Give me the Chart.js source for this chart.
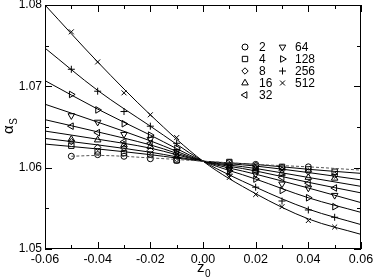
<!DOCTYPE html>
<html><head><meta charset="utf-8">
<script src="https://cdn.jsdelivr.net/npm/chart.js@4.4.0/dist/chart.umd.min.js"></script>
<style>html,body{margin:0;padding:0;background:#fff}#wrap{width:374px;height:280px}</style>
</head><body><div id="wrap"><canvas id="c" width="374" height="280"></canvas></div>
<script>
// ---- data ----
const zValues = [-0.05, -0.04, -0.03, -0.02, -0.01, 0.01, 0.02, 0.03, 0.04, 0.05];
const seriesNames = ['2', '4', '8', '16', '32', '64', '128', '256', '512'];
const alpha2   = [1.0614, 1.0616, 1.0614, 1.0611, 1.0609, 1.0606, 1.0604, 1.0600, 1.0601, null];
const alpha4   = [1.0627, 1.0620, 1.0618, 1.0616, 1.0609, 1.0607, 1.0601, 1.0601, 1.0598, 1.0595];
const alpha8   = [1.0632, 1.0625, 1.0624, 1.0621, 1.0611, 1.0604, 1.0603, 1.0597, 1.0595, 1.0591];
const alpha16  = [1.0635, 1.0634, 1.0628, 1.0626, 1.0614, 1.0602, 1.0599, 1.0593, 1.0588, 1.0587];
const alpha32  = [1.0651, 1.0643, 1.0632, 1.0630, 1.0617, 1.0600, 1.0596, 1.0588, 1.0581, 1.0575];
const alpha64  = [1.0664, 1.0656, 1.0641, 1.0635, 1.0620, 1.0598, 1.0592, 1.0580, 1.0575, 1.0566];
const alpha128 = [1.0690, 1.0671, 1.0654, 1.0640, 1.0624, 1.0596, 1.0586, 1.0572, 1.0563, 1.0552];
const alpha256 = [1.0721, 1.0694, 1.0669, 1.0651, 1.0630, 1.0592, 1.0576, 1.0559, 1.0548, 1.0539];
const alpha512 = [1.0767, 1.0730, 1.0692, 1.0665, 1.0637, 1.0588, 1.0567, 1.0552, 1.0535, 1.0527];

// fitted curves, read at a few z positions
const curveZ    = [-0.06, -0.04, -0.02, 0.00, 0.02, 0.04, 0.06];
const curve2Z   = [-0.05, -0.04, -0.02, 0.00, 0.02, 0.04, 0.06];
const curve2    = [1.0614, 1.0615, 1.0612, 1.0608, 1.0604, 1.0601, 1.0597];
const curve4    = [1.0629, 1.0623, 1.0616, 1.0608, 1.0604, 1.0598, 1.0593];
const curve8    = [1.0636, 1.0628, 1.0619, 1.0608, 1.0602, 1.0594, 1.0585];
const curve16   = [1.0645, 1.0635, 1.0624, 1.0608, 1.0599, 1.0588, 1.0577];
const curve32   = [1.0659, 1.0644, 1.0628, 1.0608, 1.0596, 1.0582, 1.0569];
const curve64   = [1.0678, 1.0656, 1.0633, 1.0608, 1.0592, 1.0575, 1.0557];
const curve128  = [1.0707, 1.0672, 1.0640, 1.0608, 1.0586, 1.0563, 1.0545];
const curve256  = [1.0747, 1.0695, 1.0651, 1.0608, 1.0576, 1.0549, 1.0530];
const curve512  = [1.0800, 1.0730, 1.0665, 1.0608, 1.0568, 1.0537, 1.0518];

const xTickValues = [-0.06, -0.04, -0.02, 0.00, 0.02, 0.04, 0.06];
const yTickValues = [1.05, 1.06, 1.07, 1.08];

// ---- styles ----
const markerStyles = [
  {pointStyle: 'circle',   rotation: 0,   radius: 3},
  {pointStyle: 'rect',     rotation: 0,   radius: 3.8},
  {pointStyle: 'rectRot',  rotation: 0,   radius: 3.2},
  {pointStyle: 'triangle', rotation: 0,   radius: 3.8},
  {pointStyle: 'triangle', rotation: 270, radius: 3.8},
  {pointStyle: 'triangle', rotation: 180, radius: 3.8},
  {pointStyle: 'triangle', rotation: 90,  radius: 3.8},
  {pointStyle: 'cross',    rotation: 0,   radius: 3.5},
  {pointStyle: 'crossRot', rotation: 0,   radius: 3.5}
];
const markerData = [alpha2, alpha4, alpha8, alpha16, alpha32, alpha64, alpha128, alpha256, alpha512];
const curveData = [curve2, curve4, curve8, curve16, curve32, curve64, curve128, curve256, curve512];

const toPts = (xs, ys) => xs.map((x, i) => ({x: x, y: ys[i]})).filter(p => p.y !== null);

const datasets = [];
curveData.forEach((c, i) => {
  datasets.push({
    data: toPts(i === 0 ? curve2Z : curveZ, c),
    showLine: true,
    borderColor: i === 0 ? '#555' : '#000',
    borderWidth: 1,
    borderDash: i === 0 ? [3, 2] : [],
    pointRadius: 0,
    cubicInterpolationMode: 'monotone',
    tension: 0.4,
    fill: false
  });
});
markerData.forEach((m, i) => {
  const s = markerStyles[i];
  datasets.push({
    data: toPts(zValues, m),
    showLine: false,
    pointStyle: s.pointStyle,
    rotation: s.rotation,
    pointRadius: s.radius,
    pointBorderColor: '#000',
    pointBackgroundColor: 'rgba(0,0,0,0)',
    pointBorderWidth: 1
  });
});

function drawMarker(ctx, s, x, y) {
  ctx.save();
  ctx.strokeStyle = '#000';
  ctx.fillStyle = 'rgba(0,0,0,0)';
  ctx.lineWidth = 1;
  Chart.helpers.drawPoint(ctx, {pointStyle: s.pointStyle, rotation: s.rotation, radius: s.radius, borderWidth: 1}, x, y);
  ctx.restore();
}

const framePlugin = {
  id: 'frame',
  afterDraw(chart) {
    const ctx = chart.ctx;
    const xs = chart.scales.x, ys = chart.scales.y;
    const {left, right, top, bottom} = chart.chartArea;
    ctx.save();
    ctx.strokeStyle = '#000';
    ctx.lineWidth = 1;
    ctx.strokeRect(left + 0.5, top + 0.5, right - left - 1, bottom - top - 1);
    ctx.beginPath();
    for (let i = -6; i <= 6; i++) {
      const px = Math.round(xs.getPixelForValue(i / 100)) + 0.5;
      const len = (i % 2 === 0) ? 7 : 4;
      ctx.moveTo(px, bottom); ctx.lineTo(px, bottom - len);
      ctx.moveTo(px, top); ctx.lineTo(px, top + len);
    }
    for (let k = 0; k <= 6; k++) {
      const v = 1.05 + k * 0.005;
      const py = Math.round(ys.getPixelForValue(v)) + 0.5;
      const len = (k % 2 === 0) ? 7 : 4;
      ctx.moveTo(left, py); ctx.lineTo(left + len, py);
      ctx.moveTo(right, py); ctx.lineTo(right - len, py);
    }
    ctx.stroke();

    // legend
    ctx.fillStyle = '#000';
    ctx.font = '12px "Liberation Sans", Arial, sans-serif';
    ctx.textBaseline = 'middle';
    ctx.textAlign = 'left';
    const rows = [47, 59, 71, 83, 95];
    seriesNames.forEach((name, i) => {
      const col = i < 5 ? 0 : 1;
      const row = i < 5 ? i : i - 5;
      const mx = col === 0 ? 245 : 282.5;
      const tx = col === 0 ? 259 : 295;
      drawMarker(ctx, markerStyles[i], mx, rows[row]);
      ctx.fillText(name, tx, rows[row] + 0.5);
    });

    // axis titles
    ctx.font = '15px "Liberation Sans", Arial, sans-serif';
    ctx.textBaseline = 'alphabetic';
    ctx.fillText('z', 197, 272);
    ctx.font = '10px "Liberation Sans", Arial, sans-serif';
    ctx.fillText('0', 205, 277);

    ctx.translate(13, 134);
    ctx.rotate(-Math.PI / 2);
    ctx.font = '15px "Liberation Sans", Arial, sans-serif';
    ctx.fillText('\u03b1', 0, 0);
    const w = ctx.measureText('\u03b1').width;
    ctx.font = '10px "Liberation Sans", Arial, sans-serif';
    ctx.fillText('S', w + 0.5, 4);
    ctx.restore();
  }
};

new Chart(document.getElementById('c'), {
  type: 'scatter',
  data: {datasets: datasets},
  options: {
    responsive: false,
    animation: false,
    devicePixelRatio: 1,
    layout: {padding: {left: 0, right: 13, top: 5, bottom: 0}},
    plugins: {legend: {display: false}, tooltip: {enabled: false}},
    scales: {
      x: {
        type: 'linear', min: -0.06, max: 0.06,
        afterBuildTicks(scale) { scale.ticks = xTickValues.map(v => ({value: v})); },
        afterFit(scale) { scale.height = 31; scale.paddingLeft = 0; scale.paddingRight = 0; scale.paddingTop = 0; scale.paddingBottom = 0; },
        grid: {display: false, drawTicks: false},
        border: {display: false},
        ticks: {
          color: '#000', padding: 3, maxRotation: 0, autoSkip: false,
          font: {family: '"Liberation Sans", Arial, sans-serif', size: 12.5},
          callback: v => Number(v).toFixed(2)
        }
      },
      y: {
        type: 'linear', min: 1.05, max: 1.08,
        afterBuildTicks(scale) { scale.ticks = yTickValues.map(v => ({value: v})); },
        afterFit(scale) { scale.width = 45; scale.paddingLeft = 0; scale.paddingRight = 0; scale.paddingTop = 0; scale.paddingBottom = 0; },
        grid: {display: false, drawTicks: false},
        border: {display: false},
        ticks: {
          color: '#000', padding: 3, autoSkip: false,
          font: {family: '"Liberation Sans", Arial, sans-serif', size: 12},
          callback: v => Number(v).toFixed(2)
        }
      }
    }
  },
  plugins: [framePlugin]
});
</script>
</body></html>
